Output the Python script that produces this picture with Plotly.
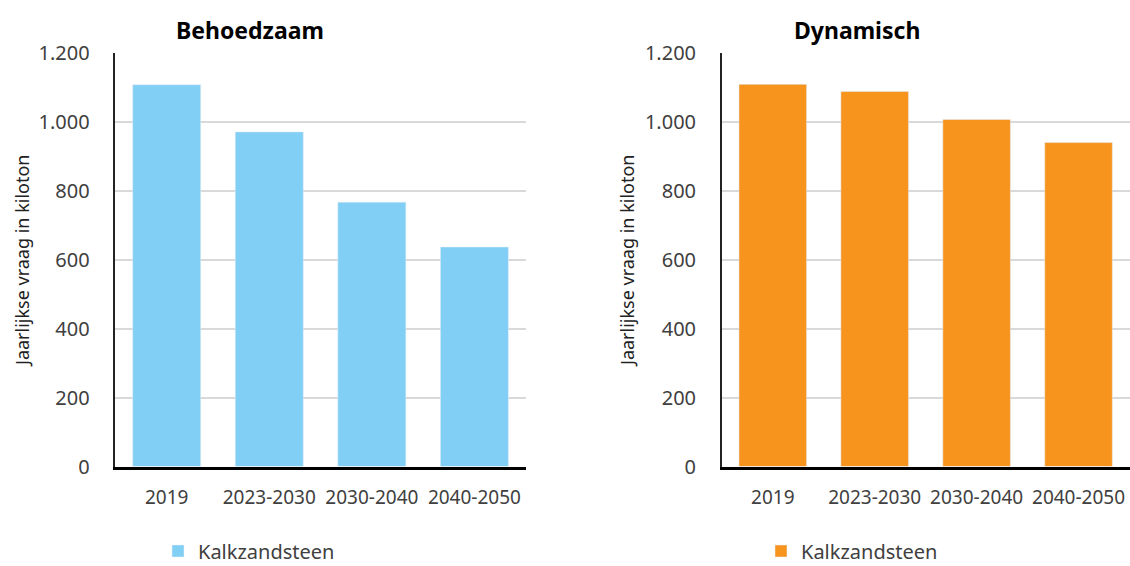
import plotly.graph_objects as go
from plotly.subplots import make_subplots

# Data
categorieen = ['2019', '2023-2030', '2030-2040', '2040-2050']
behoedzaam = [1108, 971, 767, 637]
dynamisch = [1109, 1088, 1007, 940]
reeks_naam = 'Kalkzandsteen'
titels = ['Behoedzaam', 'Dynamisch']
y_titel = 'Jaarlijkse vraag in kiloton'

BLAUW = '#82CFF5'
ORANJE = '#F7941D'
W, H = 1130, 566
FONT = 'Noto Sans'

fig = make_subplots(rows=1, cols=2)

fig.add_trace(go.Bar(x=categorieen, y=behoedzaam, name=reeks_naam,
                     marker_color=BLAUW, legend='legend'), row=1, col=1)
fig.add_trace(go.Bar(x=categorieen, y=dynamisch, name=reeks_naam,
                     marker_color=ORANJE, legend='legend2'), row=1, col=2)

# plot areas in pixels -> paper fractions
x_dom = [[115.4 / W, 525.7 / W], [721.8 / W, 1129.5 / W]]
y_dom = [(H - 466.5) / H, (H - 53) / H]

for i in (1, 2):
    fig.update_xaxes(domain=x_dom[i - 1], showline=True, linecolor='black',
                     linewidth=2.5, showgrid=False, ticks='',
                     ticklabelstandoff=12,
                     tickfont=dict(family=FONT, size=19, color='#404040'),
                     row=1, col=i)
    fig.update_yaxes(domain=y_dom, range=[0, 1200], dtick=200,
                     tickformat=',d', showline=True, linecolor='#222222',
                     linewidth=1.5, showgrid=True, gridcolor='#D9D9D9',
                     gridwidth=1.5, zeroline=False, ticks='',
                     ticklabelstandoff=20,
                     tickfont=dict(family=FONT, size=20, color='#404040'),
                     row=1, col=i)

annotaties = []
# titles
for tekst, xc in zip(titels, [250.4, 856.6]):
    annotaties.append(dict(text='<b>' + tekst + '</b>', x=xc / W, y=(H - 30) / H,
                           xref='paper', yref='paper', showarrow=False,
                           xanchor='center', yanchor='middle',
                           font=dict(family=FONT, size=23, color='black')))
# y titles
for xc in [22, 627]:
    annotaties.append(dict(text=y_titel, x=xc / W, y=(H - 261) / H,
                           xref='paper', yref='paper', showarrow=False,
                           textangle=-90, xanchor='center', yanchor='middle',
                           font=dict(family=FONT, size=18, color='#222222')))

fig.update_layout(
    width=W, height=H,
    margin=dict(l=0, r=0, t=0, b=0, autoexpand=False),
    paper_bgcolor='white', plot_bgcolor='white',
    separators=',.',
    bargap=0.337,
    annotations=annotaties,
    showlegend=True,
    legend=dict(x=158 / W, y=(H - 551) / H, xanchor='left', yanchor='middle',
                font=dict(family=FONT, size=20, color='#404040'),
                itemwidth=30, bgcolor='rgba(0,0,0,0)'),
    legend2=dict(x=761 / W, y=(H - 551) / H, xanchor='left', yanchor='middle',
                 font=dict(family=FONT, size=20, color='#404040'),
                 itemwidth=30, bgcolor='rgba(0,0,0,0)'),
)

fig.write_html('out.html', config={'displayModeBar': False},
               post_script="document.body.style.margin='0';"
                           "document.body.style.overflow='hidden';")
